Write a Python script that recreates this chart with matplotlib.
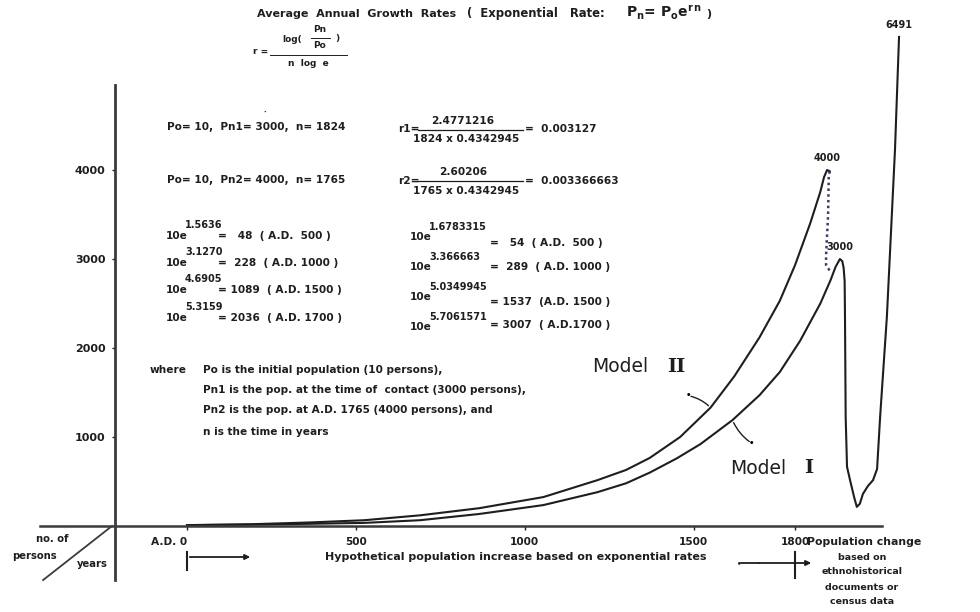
import matplotlib
matplotlib.use("Agg")
import matplotlib.pyplot as plt
from matplotlib.lines import Line2D

# population curves (year, persons)
model2_year = [0, 190, 365, 525, 690, 865, 1055, 1215, 1300, 1370, 1460, 1550,
               1620, 1695, 1755, 1800, 1845, 1875, 1886, 1895, 1903]
model2_pop = [10, 20, 40, 65, 120, 200, 325, 515, 630, 765, 1000, 1330,
              1680, 2120, 2530, 2930, 3400, 3755, 3920, 4000, 3985]

decline_year = [1903, 1900, 1898, 1892, 1892, 1907]
decline_pop = [3985, 3944, 3494, 3045, 2933, 2843]

model1_year = [0, 190, 365, 525, 690, 865, 1055, 1215, 1300, 1370, 1450, 1520,
               1615, 1695, 1755, 1815, 1875, 1905, 1920, 1933, 1940, 1944,
               1947, 1948, 1950, 1954, 1963, 1975, 1983, 1992, 2001, 2016,
               2031, 2043, 2052, 2072, 2096, 2108]
model1_pop = [10, 15, 25, 35, 65, 135, 235, 380, 480, 600, 760, 920,
              1190, 1470, 1730, 2080, 2500, 2760, 2910, 3000, 2975, 2900,
              2750, 2350, 1225, 665, 515, 325, 215, 250, 360, 450,
              515, 640, 1225, 2350, 4225, 5495]

peak_labels = ["4000", "3000", "6491"]
y_ticks = [1000, 2000, 3000, 4000]
x_ticks = [0, 500, 1000, 1500, 1800]
x_labels = ["A.D. 0", "500", "1000", "1500", "1800"]

plt.rcParams["font.family"] = "DejaVu Sans"
plt.rcParams["font.weight"] = "bold"
ink = "#1e1e1e"
body = 7.6

fig = plt.figure(figsize=(9.8, 6.12), dpi=100)
ax = fig.add_axes([0, 0, 1, 1])
ax.set_xlim(-553.6, 2347.7)
ax.set_ylim(-966.3, 5910.1)

# axes drawn as crossing lines like the original sketch
for s in ["top", "right"]:
    ax.spines[s].set_visible(False)
ax.spines["left"].set_position(("data", -213))
ax.spines["left"].set_bounds(-607, 4955)
ax.spines["left"].set_linewidth(2)
ax.spines["left"].set_color("#3a3a40")
ax.spines["bottom"].set_position(("data", 0))
ax.spines["bottom"].set_bounds(-435, 2057)
ax.spines["bottom"].set_linewidth(1.8)
ax.spines["bottom"].set_color("#3a3a40")
ax.plot([-426, -222], [-607, 0], color="#3a3a40", lw=1.3, clip_on=False)

ax.set_yticks(y_ticks)
ax.set_yticklabels([str(v) for v in y_ticks])
ax.tick_params(axis="y", length=2, width=1, pad=5, labelsize=8, colors=ink)
ax.set_xticks(x_ticks)
ax.set_xticklabels(x_labels)
ax.tick_params(axis="x", length=3, width=1, pad=5, labelsize=7.6, colors=ink)
ax.get_xticklabels()[0].set_horizontalalignment("right")

# curves
ax.plot(model2_year, model2_pop, color=ink, lw=1.5)
ax.plot(model1_year, model1_pop, color=ink, lw=1.5)
ax.plot(decline_year, decline_pop, color="#3b3b66", lw=1.8, linestyle=(0, (1, 1.3)))

# peak labels
i2 = model2_pop.index(max(model2_pop))
i1 = model1_pop.index(3000)
peaks = [(model2_year[i2], model2_pop[i2]), (model1_year[i1], model1_pop[i1]),
         (model1_year[-1], model1_pop[-1])]
for (px_, py_), lab in zip(peaks, peak_labels):
    ax.annotate(lab, xy=(px_, py_), xytext=(0, 5), textcoords="offset points",
                ha="center", va="bottom", fontsize=7, color=ink)

# model pointers
j2 = model2_year.index(1550)
j1 = model1_year.index(1615)
ax.annotate("", xy=(model2_year[j2], model2_pop[j2]), xytext=(-16, 8.6),
            textcoords="offset points",
            arrowprops=dict(arrowstyle="-", color=ink, lw=1,
                            connectionstyle="arc3,rad=-0.15"))
ax.annotate("•", xy=(model2_year[j2], model2_pop[j2]), xytext=(-16, 8.6),
            textcoords="offset points", ha="center", va="center", fontsize=6)
ax.annotate("", xy=(model1_year[j1], model1_pop[j1]), xytext=(13.7, -16.6),
            textcoords="offset points",
            arrowprops=dict(arrowstyle="-", color=ink, lw=1,
                            connectionstyle="arc3,rad=-0.15"))
ax.annotate("•", xy=(model1_year[j1], model1_pop[j1]), xytext=(13.7, -16.6),
            textcoords="offset points", ha="center", va="center", fontsize=6)


def put(x, y, s, **kw):
    kw.setdefault("fontsize", body)
    kw.setdefault("va", "center")
    kw.setdefault("color", ink)
    return fig.text(x / 980, 1 - y / 612, s, **kw)


def bar(x0, x1, y, lw=0.9):
    fig.add_artist(Line2D([x0 / 980, x1 / 980], [1 - y / 612, 1 - y / 612],
                          color=ink, lw=lw))


# title line
put(257, 14, "Average  Annual  Growth  Rates", fontsize=8)
put(467, 14, "(  Exponential   Rate:", fontsize=8.4)
put(626, 13, r"$\mathbf{P_n}$= $\mathbf{P_o e^{r\,n}}$", fontsize=10)
put(706, 14, ")", fontsize=8)

# r = log(Pn/Po) / (n log e)
put(261, 52, "r =", ha="center", fontsize=6.5)
put(292, 39, "log(", ha="center", fontsize=6.5)
put(320, 30, "Pn", ha="center", fontsize=6.5)
bar(311, 330, 38, lw=0.7)
put(320, 46, "Po", ha="center", fontsize=6.5)
put(337, 39, ")", ha="center", fontsize=6.5)
bar(270, 347, 55, lw=0.7)
put(308, 63, "n  log  e", ha="center", fontsize=6.5)

# worked rates
put(167, 127, "Po= 10,  Pn1= 3000,  n= 1824")
put(265, 112, "•", ha="center", fontsize=3)
put(398, 129, "r1=")
put(463, 121, "2.4771216", ha="center")
bar(418, 523, 130)
put(466, 139, "1824 x 0.4342945", ha="center")
put(525, 129, "=  0.003127")

put(167, 180, "Po= 10,  Pn2= 4000,  n= 1765")
put(398, 181, "r2=")
put(463, 172, "2.60206", ha="center")
bar(418, 523, 181)
put(466, 191, "1765 x 0.4342945", ha="center")
put(525, 181, "=  0.003366663")

left_rows = [("1.5636", "=   48  ( A.D.  500 )", 236),
             ("3.1270", "=  228  ( A.D. 1000 )", 263),
             ("4.6905", "= 1089  ( A.D. 1500 )", 290),
             ("5.3159", "= 2036  ( A.D. 1700 )", 318)]
for sup, rest, y in left_rows:
    put(166, y, "10e")
    put(185, y - 11, sup, fontsize=7)
    put(218, y, rest)

right_rows = [("1.6783315", "=   54  ( A.D.  500 )", 237, 243),
              ("3.366663", "=  289  ( A.D. 1000 )", 267, 267),
              ("5.0349945", "= 1537  (A.D. 1500 )", 297, 302),
              ("5.7061571", "= 3007  ( A.D.1700 )", 327, 325)]
for sup, rest, y, y2 in right_rows:
    put(410, y, "10e")
    put(429, y - 10, sup, fontsize=7)
    put(490, y2, rest)

# legend of symbols
put(150, 370, "where")
put(203, 370, "Po is the initial population (10 persons),")
put(203, 390, "Pn1 is the pop. at the time of  contact (3000 persons),")
put(203, 410, "Pn2 is the pop. at A.D. 1765 (4000 persons), and")
put(203, 432, "n is the time in years")

# model names
put(592, 367, "Model", fontsize=13.5, fontweight="normal")
put(667, 367, "II", fontsize=14, fontweight="bold", family="DejaVu Serif")
put(730, 468, "Model", fontsize=13.5, fontweight="normal")
put(804, 468, "I", fontsize=14, fontweight="bold", family="DejaVu Serif")

# lower captions
put(52, 539, "no. of", ha="center", fontsize=7.2)
put(34, 556, "persons", ha="center", fontsize=7.2)
put(92, 564, "years", ha="center", fontsize=7.2)
put(516, 557, "Hypothetical population increase based on exponential rates",
    ha="center", fontsize=8)
put(807, 542, "Population change", fontsize=7.8)
for y, s in zip([557, 572, 587, 602],
                ["based on", "ethnohistorical", "documents or", "census data"]):
    put(862, y, s, ha="center", fontsize=6.8)

# little period arrows under the axis
fig.add_artist(Line2D([187 / 980, 187 / 980], [1 - 552 / 612, 1 - 570 / 612], color=ink, lw=1.5))
ax.annotate("", xy=(253, 612 - 557), xytext=(187, 612 - 557), xycoords="figure pixels",
            textcoords="figure pixels",
            arrowprops=dict(arrowstyle="-|>,head_length=0.3,head_width=0.15", color=ink, lw=1.3))
fig.add_artist(Line2D([795 / 980, 795 / 980], [1 - 552 / 612, 1 - 578 / 612], color=ink, lw=1.5))
ax.annotate("", xy=(814, 612 - 563), xytext=(738, 612 - 563), xycoords="figure pixels",
            textcoords="figure pixels",
            arrowprops=dict(arrowstyle="-|>,head_length=0.3,head_width=0.15", color=ink, lw=1.3))
put(739, 563, "•", ha="center", fontsize=5)
put(758, 563, "•", ha="center", fontsize=4)

fig.savefig("out.png", dpi=100, facecolor="white")
